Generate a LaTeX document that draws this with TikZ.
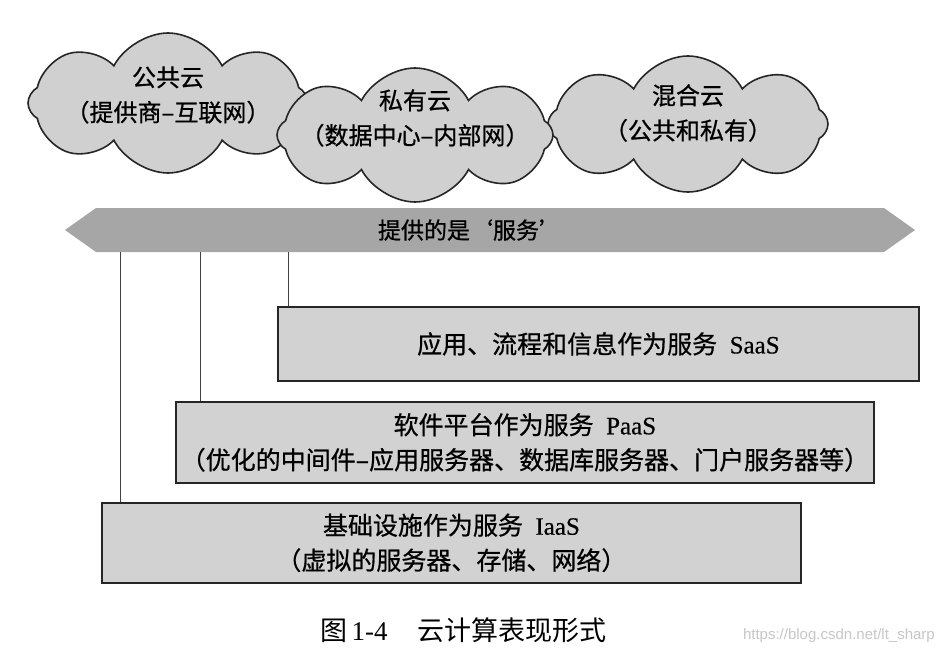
\documentclass[tikz,border=0pt]{standalone}
\usepackage{fontspec}
\setmainfont{Liberation Serif}
\newfontfamily\cjk[FakeBold=0.7]{Noto Sans CJK SC}
\newfontfamily\latinb[FakeBold=0.5]{Liberation Serif}
\newfontfamily\capfont{Noto Sans CJK SC}
\newfontfamily\wmfont{Liberation Sans}
\usetikzlibrary{shapes.symbols}
\definecolor{cloudfill}{HTML}{D0D0D0}
\definecolor{boxfill}{HTML}{D2D2D2}
\definecolor{bannerfill}{HTML}{A6A6A6}
\definecolor{edge}{HTML}{262626}
\tikzset{
  cloudshape/.style={cloud, cloud puffs=8, cloud puff arc=125, cloud ignores aspect,
    draw=edge, line width=1.6pt, fill=cloudfill, inner sep=0pt},
  cloudtext/.style={align=center, inner sep=0pt, font=\cjk\fontsize{24}{35}\selectfont},
  layerbox/.style={draw=edge, line width=1.8pt, fill=boxfill, align=center, inner sep=0pt,
    anchor=north west, font=\fontsize{25}{35}\selectfont},
  link/.style={draw=black!75, line width=0.9pt}
}
\begin{document}
\begin{tikzpicture}[x=1pt,y=-1pt]
\useasboundingbox (0,0) rectangle (945,659);
\fill[white] (0,0) rectangle (945,659);

% clouds
\node[cloudshape, minimum width=280pt, minimum height=140pt] (pub) at (168,103) {};
\node[cloudshape, minimum width=280pt, minimum height=136pt] (hyb) at (688,124) {};
\node[cloudshape, minimum width=276pt, minimum height=134pt] (pri) at (415,135) {};
\node[cloudtext] (pubt) at ([yshift=8pt]pub.center) {公共云\\（提供商–互联网）};
\node[cloudtext] (hybt) at ([yshift=11pt]hyb.center) {混合云\\（公共和私有）};
\node[cloudtext] (prit) at ([yshift=17pt]pri.center) {私有云\\（数据中心–内部网）};

% banner
\fill[bannerfill] (65,230) -- (96,208) -- (884,208) -- (915,230) -- (884,252) -- (96,252) -- cycle;
\node[font=\cjk\fontsize{23}{28}\selectfont, inner sep=0pt] (banner) at (470,230) {提供的是‘服务’};
\coordinate (bb) at (470,252);

% layer boxes
\node[layerbox, minimum width=641pt, minimum height=74pt] (saas) at (277,306)
  {{\cjk 应用、流程和信息作为服务}\ \ {\latinb SaaS}};
\node[layerbox, minimum width=698pt, minimum height=81pt] (paas) at (175,401)
  {{\cjk 软件平台作为服务}\ \ {\latinb PaaS}\\{\cjk （优化的中间件–应用服务器、数据库服务器、门户服务器等）}};
\node[layerbox, minimum width=699pt, minimum height=80pt] (iaas) at (101,502)
  {{\cjk 基础设施作为服务}\ \ {\latinb IaaS}\\{\cjk （虚拟的服务器、存储、网络）}};

% connectors
\draw[link] ([xshift=11pt]saas.north west) -- ([xshift=11pt]saas.north west |- bb);
\draw[link] ([xshift=25pt]paas.north west) -- ([xshift=25pt]paas.north west |- bb);
\draw[link] ([xshift=19pt]iaas.north west) -- ([xshift=19pt]iaas.north west |- bb);

% caption
\node[font=\fontsize{27}{30}\selectfont, anchor=west, inner sep=0pt] (cap) at (320,630)
  {{\capfont 图}\,1-4\hspace{30pt}{\capfont 云计算表现形式}};
\node[font=\wmfont\fontsize{15}{18}\selectfont, text=black!22, anchor=east, inner sep=0pt] (wm) at (935,636)
  {https://blog.csdn.net/lt\_sharp};
\end{tikzpicture}
\end{document}
